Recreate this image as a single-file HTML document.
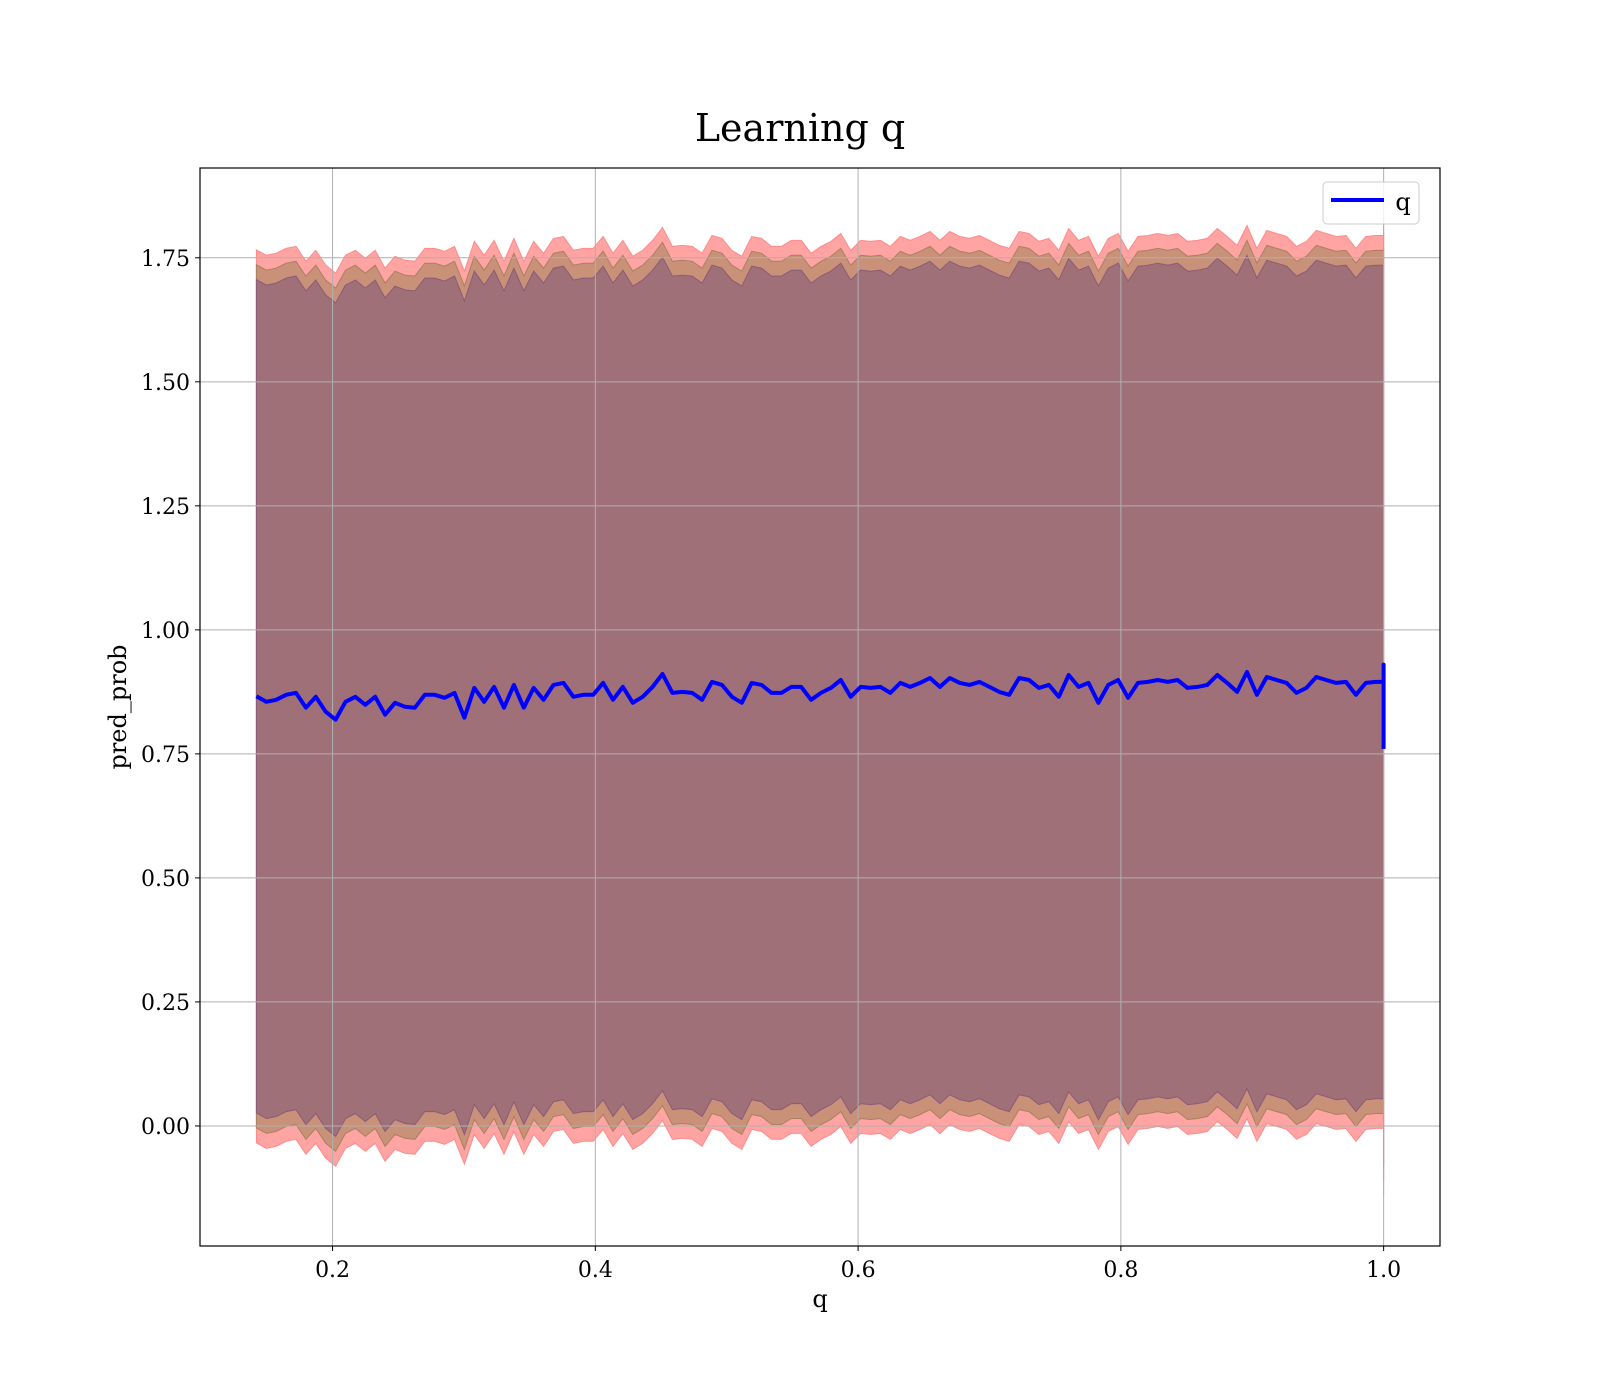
<!DOCTYPE html>
<html><head><meta charset="utf-8"><style>
html,body{margin:0;padding:0;background:#fff;}
svg{display:block;font-family:"DejaVu Serif","Liberation Serif",serif;}
</style></head><body>
<svg id="chart" width="1600" height="1400" viewBox="0 0 1600 1400" xmlns="http://www.w3.org/2000/svg">
<rect x="0" y="0" width="1600" height="1400" fill="#fff"/>
<text x="800" y="141" text-anchor="middle" font-size="38" fill="#000">Learning q</text>
<g id="bands"></g>
<g id="grid"></g>
<g id="lines"></g>
<rect x="200" y="168" width="1240" height="1078" fill="none" stroke="#000" stroke-width="1.2"/>
<g id="ticks"></g>
<text x="820" y="1307" text-anchor="middle" font-size="24">q</text>
<text transform="translate(126,707) rotate(-90)" text-anchor="middle" font-size="24">pred_prob</text>
<g>
<rect x="1323" y="182" width="96" height="42" rx="4" fill="#fff" fill-opacity="0.8" stroke="#ccc"/>
<line x1="1331" y1="200" x2="1384" y2="200" stroke="#0000ff" stroke-width="4"/>
<text x="1403" y="210" text-anchor="middle" font-size="24">q</text>
</g>
</svg>
<script>
const qStart = 0.142;
const qEnd = 0.994;
const meanValues = [0.866,0.855,0.859,0.869,0.873,0.843,0.865,0.835,0.819,0.855,0.865,0.849,0.865,0.829,0.853,0.845,0.843,0.869,0.869,0.863,0.873,0.823,0.883,0.855,0.885,0.843,0.889,0.843,0.883,0.859,
0.889,0.893,0.865,0.869,0.869,0.893,0.859,0.885,0.853,0.865,0.885,0.911,0.873,0.875,0.873,0.859,0.895,0.889,0.865,0.853,0.893,0.889,0.873,0.873,0.885,0.885,0.859,0.873,0.883,
0.899,0.865,0.885,0.883,0.885,0.873,0.893,0.885,0.893,0.903,0.885,0.903,0.893,0.889,0.895,0.885,0.875,0.869,0.903,0.899,0.883,0.889,0.865,0.909,0.885,0.893,0.853,0.889,0.899,
0.863,0.893,0.895,0.899,0.895,0.899,0.883,0.885,0.889,0.909,0.893,0.875,0.915,0.869,0.905,0.899,0.893,0.873,0.883,0.905,0.899,0.893,0.895,0.869,0.893,0.895];
const endQ = [1.0, 1.0, 1.0];
const endValues = [0.895, 0.93, 0.76];
const bandHalfWidths = [0.90, 0.87, 0.84];
const bandColors = ['#ffa3a3', '#c99178', '#a07078'];
const bandEdges = ['#ff8a8a', '#a98060', '#8a5a78'];
const xTicks = [0.2, 0.4, 0.6, 0.8, 1.0];
const xTickLabels = ['0.2', '0.4', '0.6', '0.8', '1.0'];
const yTicks = [0, 0.25, 0.5, 0.75, 1.0, 1.25, 1.5, 1.75];
const yTickLabels = ['0.00', '0.25', '0.50', '0.75', '1.00', '1.25', '1.50', '1.75'];

const NS = 'http://www.w3.org/2000/svg';
const X0 = 200, X1 = 1440, Y0 = 168, Y1 = 1246;
const xMin = 0.0991, xMax = 1.0429, yMin = -0.242, yMax = 1.931;
function xs(v){ return X0 + (v - xMin) / (xMax - xMin) * (X1 - X0); }
function ys(v){ return Y1 - (v - yMin) / (yMax - yMin) * (Y1 - Y0); }

const qs = [];
for (let i = 0; i < meanValues.length; i++) qs.push(qStart + (qEnd - qStart) * i / (meanValues.length - 1));
const allQ = qs.concat(endQ);
const allV = meanValues.concat(endValues);

const bands = document.getElementById('bands');
bandHalfWidths.forEach((w, k) => {
  let top = allQ.map((q, i) => xs(q).toFixed(1) + ',' + ys(allV[i] + w).toFixed(1));
  let bot = allQ.map((q, i) => xs(q).toFixed(1) + ',' + ys(allV[i] - w).toFixed(1)).reverse();
  const p = document.createElementNS(NS, 'polygon');
  p.setAttribute('points', top.concat(bot).join(' '));
  p.setAttribute('fill', bandColors[k]);
  p.setAttribute('stroke', bandEdges[k]);
  p.setAttribute('stroke-width', '1');
  
  
  bands.appendChild(p);
});

const grid = document.getElementById('grid');
const ticks = document.getElementById('ticks');
xTicks.forEach((t, i) => {
  const x = xs(t);
  const l = document.createElementNS(NS, 'line');
  l.setAttribute('x1', x); l.setAttribute('x2', x); l.setAttribute('y1', Y0); l.setAttribute('y2', Y1);
  l.setAttribute('stroke', '#b0b0b0'); l.setAttribute('stroke-width', '1');
  
  
  grid.appendChild(l);
  const tk = document.createElementNS(NS, 'line');
  tk.setAttribute('x1', x); tk.setAttribute('x2', x); tk.setAttribute('y1', Y1); tk.setAttribute('y2', Y1 + 5);
  tk.setAttribute('stroke', '#000');
  
  
  ticks.appendChild(tk);
  const tx = document.createElementNS(NS, 'text');
  tx.setAttribute('x', x); tx.setAttribute('y', Y1 + 31);
  tx.setAttribute('text-anchor', 'middle'); tx.setAttribute('font-size', '22');
  tx.textContent = xTickLabels[i];
  
  
  ticks.appendChild(tx);
});
yTicks.forEach((t, i) => {
  const y = ys(t);
  const l = document.createElementNS(NS, 'line');
  l.setAttribute('x1', X0); l.setAttribute('x2', X1); l.setAttribute('y1', y); l.setAttribute('y2', y);
  l.setAttribute('stroke', '#b0b0b0'); l.setAttribute('stroke-width', '1');
  
  
  grid.appendChild(l);
  const tk = document.createElementNS(NS, 'line');
  tk.setAttribute('x1', X0 - 5); tk.setAttribute('x2', X0); tk.setAttribute('y1', y); tk.setAttribute('y2', y);
  tk.setAttribute('stroke', '#000');
  
  
  ticks.appendChild(tk);
  const tx = document.createElementNS(NS, 'text');
  tx.setAttribute('x', X0 - 10); tx.setAttribute('y', y + 8);
  tx.setAttribute('text-anchor', 'end'); tx.setAttribute('font-size', '22');
  tx.textContent = yTickLabels[i];
  
  
  ticks.appendChild(tx);
});

const lines = document.getElementById('lines');
const pl = document.createElementNS(NS, 'polyline');
pl.setAttribute('points', allQ.map((q, i) => xs(q).toFixed(1) + ',' + ys(allV[i]).toFixed(1)).join(' '));
pl.setAttribute('fill', 'none');
pl.setAttribute('stroke', '#0000ff');
pl.setAttribute('stroke-width', '4');
pl.setAttribute('stroke-linejoin', 'round');


lines.appendChild(pl);
</script>
</body></html>
